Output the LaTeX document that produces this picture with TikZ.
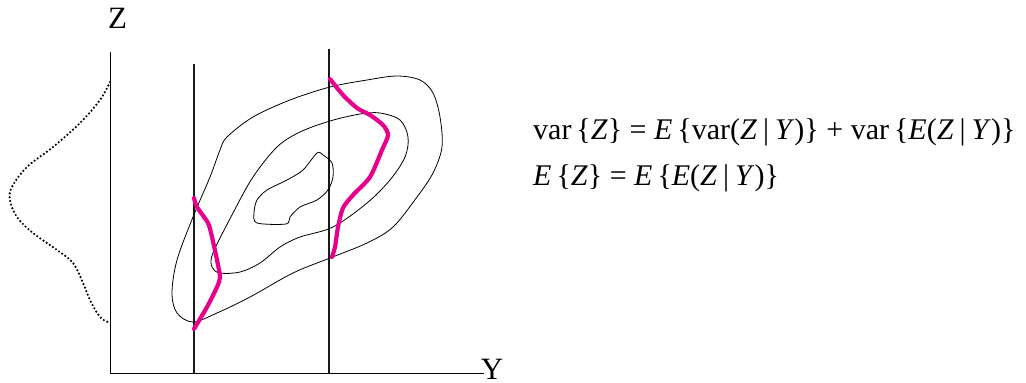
\documentclass[tikz,border=0pt]{standalone}
\usepackage{fontspec}
\setmainfont{Liberation Serif}
\usepackage{tikz}
\definecolor{condpink}{RGB}{231,0,139}
\newcommand{\cbar}{\hspace{6pt}|\hspace{6pt}}

\begin{document}
\begin{tikzpicture}[x=1pt,y=-1pt,
  axis/.style={draw=black,line width=0.9pt},
  slice/.style={draw=black!90,line width=2.4pt},
  contour/.style={draw=black,line width=0.8pt},
  condcurve/.style={draw=condpink,line width=4.2pt,line cap=round,line join=round},
  margcurve/.style={draw=black,line width=2.4pt,line cap=round,
                    dash pattern=on 0pt off 3.8pt},
  axlabel/.style={inner sep=0pt,anchor=base,font=\fontsize{31}{33}\selectfont},
  eqlabel/.style={inner sep=0pt,anchor=base west,font=\fontsize{30}{33}\selectfont}]
  \useasboundingbox (0,0) rectangle (1026,383);
  % Axes and the two conditioning slices Y = const.
  \coordinate (orig) at (110,373);
  \coordinate (ztop) at (110,52);
  \coordinate (yend) at (484,373);
  \draw[axis] (ztop) -- (orig) -- (yend);
  \node[axlabel] (zlab) at (117.5,28) {Z};
  \node[axlabel] (ylab) at (492,379) {Y};
  \foreach \n/\x/\t in {a/194/64,b/329/49}
    \draw[slice] (\x,\t) coordinate (s\n top) -- (\x,373) coordinate (s\n bot);

  % Marginal density of Z on the left (dotted).
  \draw[margcurve] plot[smooth,tension=0.6] coordinates {
    (110,82) (100,100) (80,123) (53,147) (27,167) (12,187) (10,200)
    (17,217) (33,233) (57,250) (73,263) (83,283) (90,300) (100,317) (110,323)};

  % Contours of the joint density.
  \draw[contour] plot[smooth cycle,tension=0.55] coordinates {
    (330,87) (367,80) (397,76) (420,80) (433,93) (440,117) (442,147)
    (433,173) (417,197) (393,227) (367,243) (330,258) (293,273) (250,297)
    (217,313) (193,322) (177,313) (172,293) (177,260) (193,217) (210,177)
    (220,150) (227,137) (253,117) (290,100)};
  \draw[contour] plot[smooth cycle,tension=0.55] coordinates {
    (330,121) (360,114) (380,113) (400,120) (408,137) (405,157) (390,180)
    (367,203) (333,227) (300,237) (280,247) (260,263) (240,272) (220,273)
    (212,267) (213,253) (233,213) (253,177) (277,147) (300,132)};
  \draw[contour] plot[smooth cycle,tension=0.5] coordinates {
    (317,153) (323,155) (332,163) (333,177) (328,190) (317,200) (300,207)
    (290,217) (286,224) (257,223) (254,213) (257,200) (267,190) (287,180)
    (303,170)};

  % Conditional densities of Z given Y along each slice.
  \draw[condcurve] plot[smooth,tension=0.45] coordinates {
    (194,198) (197,207) (208,223) (212,237) (217,260) (220,277) (217,287)
    (207,307) (194,329)};
  \draw[condcurve] plot[smooth,tension=0.45] coordinates {
    (330,79) (343,95) (357,108) (370,115) (383,125) (388,135) (382,150)
    (370,177) (353,195) (343,208) (338,227) (335,247) (332,257)};

  % Variance and expectation decompositions.
  \node[eqlabel] (eqvar) at (533,139)
    {var\,\{\textit{Z}\} = \textit{E}\,\{var(\textit{Z}\cbar\textit{Y})\} + var\,\{\textit{E}(\textit{Z}\cbar\textit{Y})\}};
  \node[eqlabel] (eqexp) at (533,185)
    {\textit{E}\,\{\textit{Z}\} = \textit{E}\,\{\textit{E}(\textit{Z}\cbar\textit{Y})\}};
\end{tikzpicture}
\end{document}
